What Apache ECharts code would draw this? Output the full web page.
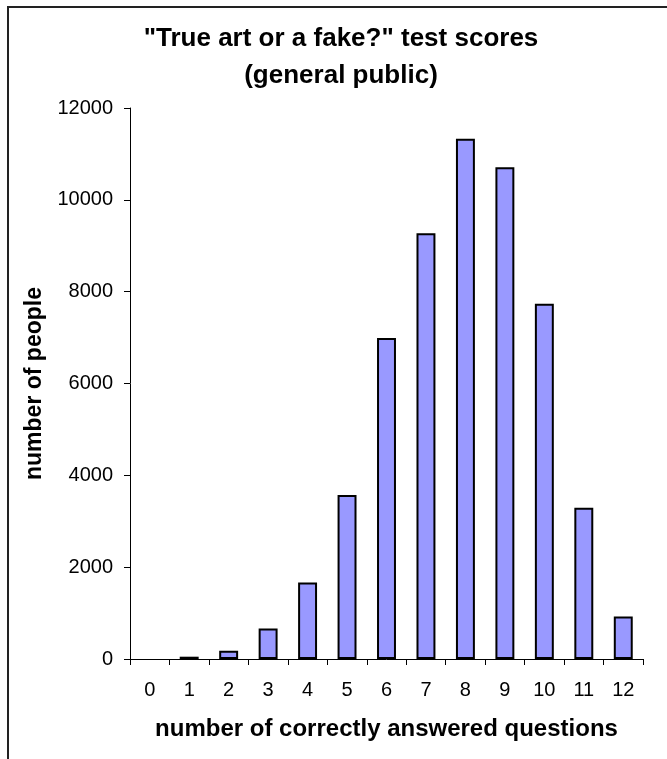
<!DOCTYPE html>
<html>
<head>
<meta charset="utf-8">
<script src="https://cdn.jsdelivr.net/npm/echarts@6/dist/echarts.min.js"></script>
<style>
  html, body { margin: 0; padding: 0; background: #fff; }
  #chart { width: 667px; height: 759px; }
</style>
</head>
<body>
<div id="chart"></div>
<script>
var categories = ['0', '1', '2', '3', '4', '5', '6', '7', '8', '9', '10', '11', '12'];
var peopleCounts = [0, 50, 180, 665, 1665, 3570, 6990, 9270, 11330, 10710, 7735, 3295, 925];
var yTicks = [0, 2000, 4000, 6000, 8000, 10000, 12000];

var FONT = '"Liberation Sans", Arial, Helvetica, sans-serif';
var chart = echarts.init(document.getElementById('chart'), null, { renderer: 'canvas' });

var barData = peopleCounts.map(function (v) {
  return v === 0 ? { value: v, itemStyle: { borderWidth: 0 } } : v;
});

chart.setOption({
  animation: false,
  backgroundColor: '#ffffff',
  title: {
    text: '"True art or a fake?" test scores\n(general public)',
    left: 341,
    top: 20,
    padding: 0,
    textAlign: 'center',
    textStyle: {
      fontFamily: FONT,
      fontSize: 26,
      fontWeight: 'bold',
      color: '#000',
      lineHeight: 37
    }
  },
  graphic: [{
    type: 'rect',
    shape: { x: 8, y: 7, width: 720, height: 800 },
    style: { fill: 'none', stroke: '#222', lineWidth: 2 },
    silent: true,
    z: 100
  }],
  grid: { left: 130, right: 24, top: 108, bottom: 100, containLabel: false },
  xAxis: {
    type: 'category',
    data: categories,
    name: 'number of correctly answered questions',
    nameLocation: 'middle',
    nameGap: 58,
    nameTextStyle: { fontFamily: FONT, fontSize: 24, fontWeight: 'bold', color: '#000' },
    axisLine: { lineStyle: { color: '#000', width: 1 } },
    axisTick: { show: true, alignWithLabel: false, inside: false, length: 6, lineStyle: { color: '#000' } },
    axisLabel: { fontFamily: FONT, fontSize: 20, color: '#000', margin: 21, interval: 0 },
    splitLine: { show: false }
  },
  yAxis: {
    type: 'value',
    min: yTicks[0],
    max: yTicks[yTicks.length - 1],
    interval: yTicks[1] - yTicks[0],
    name: 'number of people',
    nameLocation: 'middle',
    nameGap: 80,
    nameRotate: 90,
    nameTextStyle: { fontFamily: FONT, fontSize: 23, fontWeight: 'bold', color: '#000' },
    axisLine: { show: true, lineStyle: { color: '#000', width: 1 } },
    axisTick: { show: true, inside: false, length: 6, lineStyle: { color: '#000' } },
    axisLabel: {
      fontFamily: FONT, fontSize: 20, color: '#000', margin: 17,
      formatter: function (v) { return String(v); }
    },
    splitLine: { show: false }
  },
  series: [{
    type: 'bar',
    data: barData,
    barCategoryGap: '52%',
    itemStyle: { color: '#9999FF', borderColor: '#000', borderWidth: 2 }
  }]
});
</script>
</body>
</html>
